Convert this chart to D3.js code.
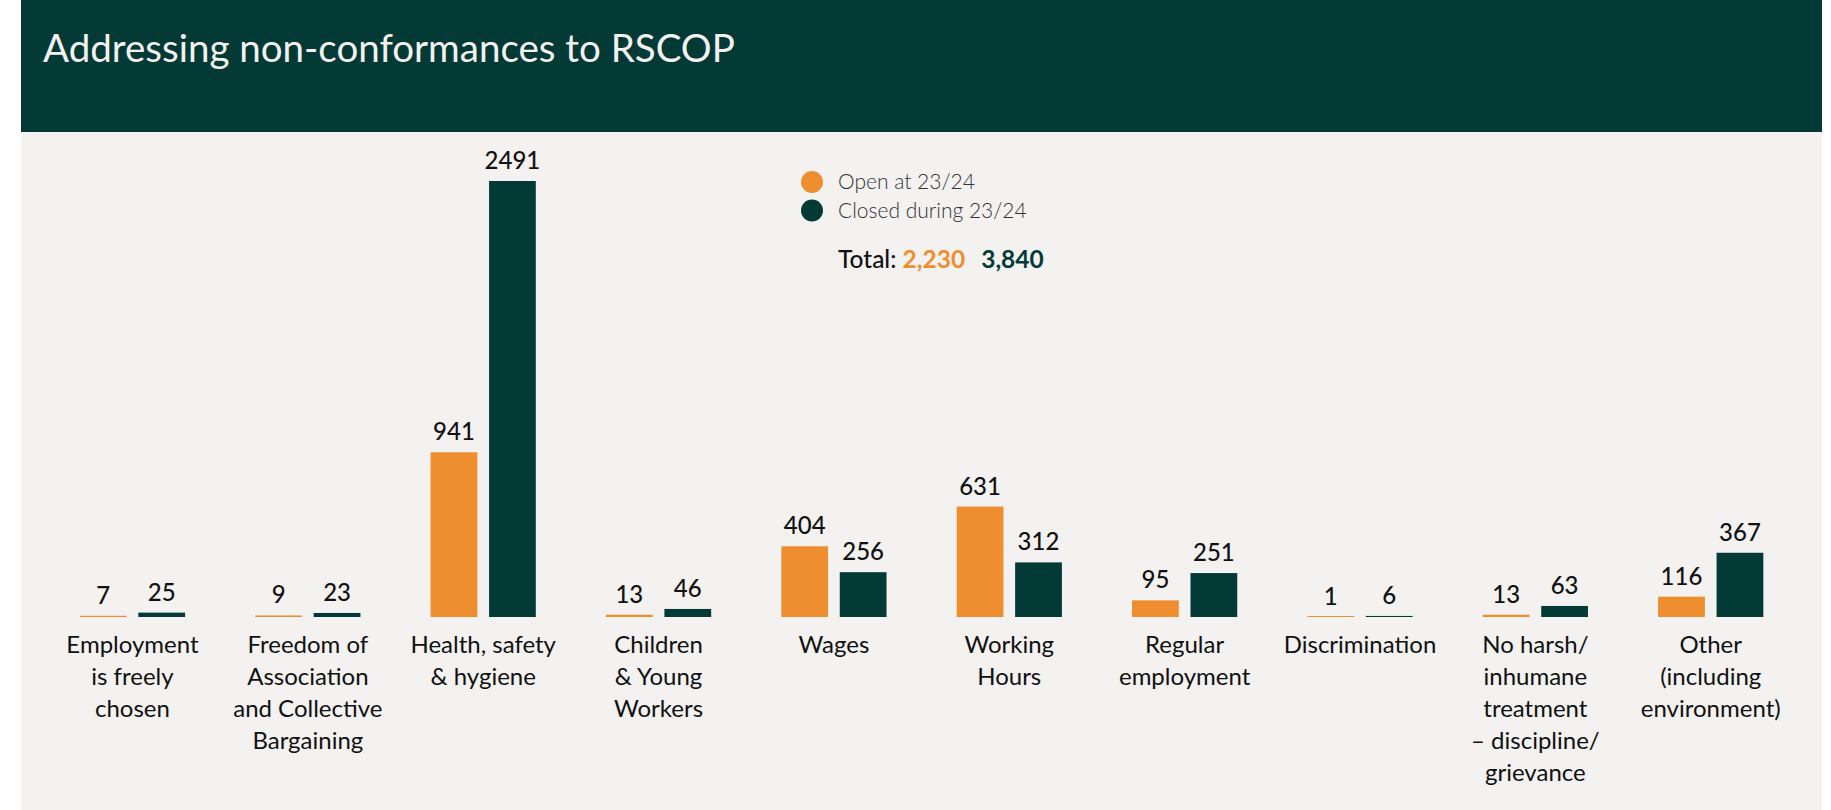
<!DOCTYPE html>
<html>
<head>
<meta charset="utf-8">
<script src="https://cdn.jsdelivr.net/npm/d3@7"></script>
<style>
  body { margin: 0; background: #fff; }
  svg { display: block; font-family: Lato, "Open Sans", sans-serif; }
</style>
</head>
<body>
<svg id="chart" width="1831" height="810"></svg>
<script>
// category labels, one entry per wrapped line
var categories = [
  ["Employment", "is freely", "chosen"],
  ["Freedom of", "Association", "and Collective", "Bargaining"],
  ["Health, safety", "& hygiene"],
  ["Children", "& Young", "Workers"],
  ["Wages"],
  ["Working", "Hours"],
  ["Regular", "employment"],
  ["Discrimination"],
  ["No harsh/", "inhumane", "treatment", "\u2013 discipline/", "grievance"],
  ["Other", "(including", "environment)"]
];
var openValues = [7, 9, 941, 13, 404, 631, 95, 1, 13, 116];
var closedValues = [25, 23, 2491, 46, 256, 312, 251, 6, 63, 367];
var seriesNames = ["Open at 23/24", "Closed during 23/24"];
var totals = ["2,230", "3,840"];

var orange = "#ee8e2e", green = "#033a36";
var colors = [orange, green];

var svg = d3.select("#chart");

// panel + header band
svg.append("rect").attr("x", 21).attr("y", 0).attr("width", 1801).attr("height", 810).attr("fill", "#f3f2f0");
svg.append("rect").attr("x", 21).attr("y", 0).attr("width", 1801).attr("height", 132).attr("fill", green);
svg.append("text")
  .attr("x", 43).attr("y", 62)
  .attr("fill", "#f3f2f0")
  .style("font-size", "38.5px")
  .text("Addressing non-conformances to RSCOP");

var baseY = 617;
var y = d3.scaleLinear().domain([0, 2491]).range([baseY, 181]);

var x0 = d3.scaleBand()
  .domain(d3.range(categories.length))
  .range([44.8, 1798.4])
  .paddingInner(0.4)
  .paddingOuter(0.2);

var x1 = d3.scaleBand()
  .domain([0, 1])
  .range([0, x0.bandwidth()])
  .paddingInner(0.2);

var rows = categories.map(function(c, i) {
  return { i: i, lines: c, vals: [openValues[i], closedValues[i]] };
});

var groups = svg.selectAll(".group").data(rows)
  .enter().append("g")
  .classed("group", true)
  .attr("transform", function(d) { return "translate(" + x0(d.i) + ",0)"; });

groups.selectAll("rect")
  .data(function(d) { return d.vals.map(function(v, k) { return { k: k, v: v }; }); })
  .enter().append("rect")
  .attr("x", function(d) { return x1(d.k); })
  .attr("width", x1.bandwidth())
  .attr("y", function(d) { return Math.min(y(d.v), baseY - 1); })
  .attr("height", function(d) { return Math.max(baseY - y(d.v), 1); })
  .attr("fill", function(d) { return colors[d.k]; });

groups.selectAll(".val")
  .data(function(d) { return d.vals.map(function(v, k) { return { k: k, v: v }; }); })
  .enter().append("text")
  .classed("val", true)
  .attr("x", function(d) { return x1(d.k) + x1.bandwidth() / 2; })
  .attr("y", function(d) { return y(d.v) - 12; })
  .attr("text-anchor", "middle")
  .attr("fill", "#111")
  .style("font-size", "24px")
  .style("font-weight", 500)
  .text(function(d) { return d.v; });

groups.append("text")
  .attr("text-anchor", "middle")
  .attr("fill", "#111")
  .style("font-size", "24px")
  .selectAll("tspan")
  .data(function(d) { return d.lines; })
  .enter().append("tspan")
  .attr("x", x0.bandwidth() / 2)
  .attr("y", function(d, i) { return 653 + i * 32; })
  .text(function(d) { return d; });

// legend
var legend = svg.append("g").attr("transform", "translate(812,182)");
legend.selectAll("circle").data(seriesNames).enter().append("circle")
  .attr("cx", 0)
  .attr("cy", function(d, i) { return i * 28.5; })
  .attr("r", 11)
  .attr("fill", function(d, i) { return colors[i]; });
legend.selectAll("text").data(seriesNames).enter().append("text")
  .attr("x", 26)
  .attr("y", function(d, i) { return 7 + i * 28.5; })
  .attr("fill", "#333")
  .style("font-size", "21px")
  .style("font-weight", 300)
  .text(function(d) { return d; });

var total = svg.append("text")
  .attr("x", 838).attr("y", 268)
  .style("font-size", "24.5px");
total.append("tspan").attr("fill", "#111").style("font-weight", 500).text("Total: ");
total.append("tspan").attr("fill", orange).style("font-weight", 700).text(totals[0]);
total.append("tspan").attr("fill", green).style("font-weight", 700).attr("dx", 16).text(totals[1]);
</script>
</body>
</html>
